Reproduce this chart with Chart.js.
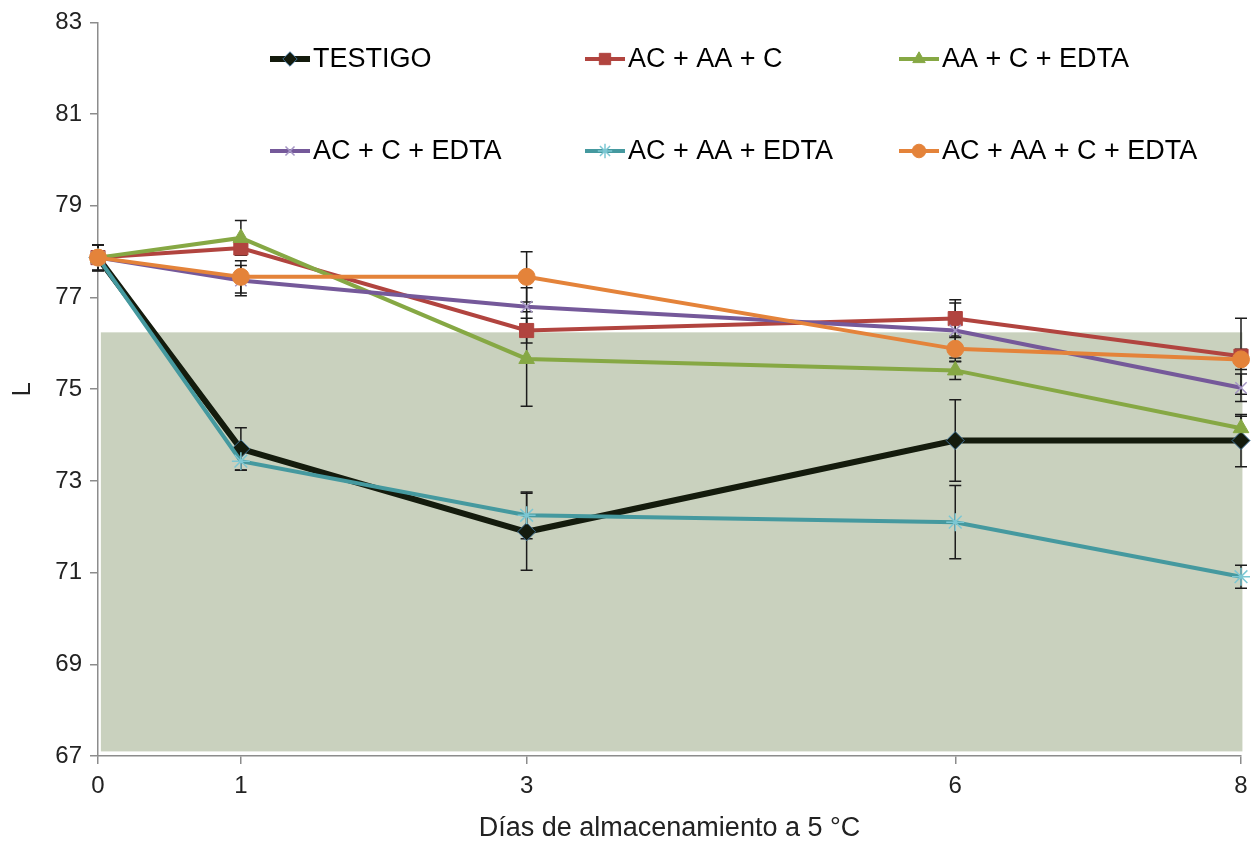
<!DOCTYPE html>
<html>
<head>
<meta charset="utf-8">
<script src="https://cdn.jsdelivr.net/npm/chart.js@4.4.0/dist/chart.umd.min.js"></script>
<style>
  html, body { margin: 0; padding: 0; background: #fff; }
</style>
</head>
<body>
<canvas id="grafico" width="1259" height="846"></canvas>
<script>
// dias de almacenamiento (eje x) y valores medios de L por tratamiento
const dias = [0, 1, 3, 6, 8];
const nombres = ['TESTIGO', 'AC + AA + C', 'AA + C + EDTA', 'AC + C + EDTA', 'AC + AA + EDTA', 'AC + AA + C + EDTA'];

const testigo  = [77.87, 73.70, 71.89, 73.88, 73.88];
const acAaC    = [77.87, 78.08, 76.28, 76.54, 75.72];
const aaCEdta  = [77.87, 78.30, 75.66, 75.41, 74.15];
const acCEdta  = [77.87, 77.37, 76.80, 76.28, 75.03];
const acAaEdta = [77.87, 73.43, 72.25, 72.10, 70.91];
const todos    = [77.87, 77.45, 77.45, 75.88, 75.65];

// desviacion estandar de cada punto (barras de error)
const errTestigo  = [0.28, 0.46, 0.84, 0.89, 0.57];
const errAcAaC    = [0.28, 0.16, 0.27, 0.41, 0.83];
const errAaCEdta  = [0.28, 0.38, 1.03, 0.20, 0.26];
const errAcCEdta  = [0.28, 0.33, 0.41, 0.60, 0.30];
const errAcAaEdta = [0.28, 0.20, 0.51, 0.80, 0.25];
const errTodos    = [0.28, 0.35, 0.55, 0.28, 0.22];

// zona sombreada del area de trazado (en unidades de los ejes)
const zonaX = [0.02, 8.01];
const zonaY = [67.1, 76.24];

const puntos = (vals) => vals.map((v, i) => ({ x: dias[i], y: v }));

function serie(idx, vals, errs, color, estilo) {
    return Object.assign({
        label: nombres[idx],
        data: puntos(vals),
        errores: errs,
        borderColor: color,
        backgroundColor: color,
        borderWidth: 4,
        pointRadius: 8,
        pointBorderWidth: 1,
        pointBorderColor: color,
        pointBackgroundColor: color,
        clip: false,
        tension: 0,
        // la ultima serie queda encima
        order: nombres.length - 1 - idx
    }, estilo);
}

const datasets = [
    serie(0, testigo, errTestigo, '#141b0d', { borderWidth: 6, pointStyle: 'rectRot', pointRadius: 9, pointBorderColor: '#3f6f93' }),
    serie(1, acAaC, errAcAaC, '#b1443f', { pointStyle: 'rect', pointRadius: 10 }),
    serie(2, aaCEdta, errAaCEdta, '#86a844', { pointStyle: 'triangle', pointRadius: 9 }),
    serie(3, acCEdta, errAcCEdta, '#75599a', { pointStyle: 'crossRot', pointRadius: 8, pointBorderWidth: 1.5, pointBorderColor: '#a596c4' }),
    serie(4, acAaEdta, errAcAaEdta, '#45999f', { pointStyle: 'star', pointRadius: 9, pointBorderWidth: 1.5, pointBorderColor: '#7cc7d3' }),
    serie(5, todos, errTodos, '#e4833a', { pointStyle: 'circle', pointRadius: 8.5 })
];

// fondo sombreado y barras de error, antes de dibujar las lineas
const fondoYErrores = {
    id: 'fondoYErrores',
    beforeDatasetsDraw(chart) {
        const ctx = chart.ctx;
        const xs = chart.scales.x;
        const ys = chart.scales.y;
        ctx.save();
        ctx.fillStyle = '#c9d1be';
        const x0 = xs.getPixelForValue(zonaX[0]);
        const x1 = xs.getPixelForValue(zonaX[1]);
        const y0 = ys.getPixelForValue(zonaY[1]);
        const y1 = ys.getPixelForValue(zonaY[0]);
        ctx.fillRect(x0, y0, x1 - x0, y1 - y0);

        ctx.strokeStyle = '#1c1c1c';
        ctx.lineWidth = 1.5;
        chart.data.datasets.forEach((ds) => {
            ds.data.forEach((p, i) => {
                const e = ds.errores[i];
                const px = xs.getPixelForValue(p.x);
                const top = ys.getPixelForValue(p.y + e);
                const bot = ys.getPixelForValue(p.y - e);
                ctx.beginPath();
                ctx.moveTo(px, top);
                ctx.lineTo(px, bot);
                ctx.moveTo(px - 6, top);
                ctx.lineTo(px + 6, top);
                ctx.moveTo(px - 6, bot);
                ctx.lineTo(px + 6, bot);
                ctx.stroke();
            });
        });
        ctx.restore();
    }
};

// leyenda en dos filas dentro del area de trazado
const leyenda = {
    id: 'leyenda',
    afterDraw(chart) {
        const ctx = chart.ctx;
        const colX = [270, 585, 899];
        const filaY = [59, 151];
        ctx.save();
        chart.data.datasets.forEach((ds, i) => {
            const x = colX[i % 3];
            const y = filaY[Math.floor(i / 3)];
            ctx.strokeStyle = ds.borderColor;
            ctx.lineWidth = ds.borderWidth;
            ctx.beginPath();
            ctx.moveTo(x, y);
            ctx.lineTo(x + 40, y);
            ctx.stroke();
            ctx.fillStyle = ds.pointBackgroundColor;
            ctx.strokeStyle = ds.pointBorderColor;
            ctx.lineWidth = ds.pointBorderWidth;
            Chart.helpers.drawPoint(ctx, {
                pointStyle: ds.pointStyle,
                radius: ds.pointRadius * 0.8,
                rotation: 0,
                borderWidth: ds.pointBorderWidth
            }, x + 20, y);
            ctx.fillStyle = '#000';
            ctx.font = '27px "Liberation Sans", Arial, sans-serif';
            ctx.textBaseline = 'middle';
            ctx.textAlign = 'left';
            ctx.fillText(ds.label, x + 43, y + 1);
        });
        ctx.restore();
    }
};

const fuenteEje = { family: '"Liberation Sans", Arial, sans-serif', size: 24 };
const colorEje = '#8c8c8c';

new Chart(document.getElementById('grafico'), {
    type: 'line',
    data: { datasets: datasets },
    plugins: [fondoYErrores, leyenda],
    options: {
        responsive: false,
        animation: false,
        layout: { padding: { top: 21, right: 18, bottom: 0, left: 0 } },
        plugins: {
            legend: { display: false },
            tooltip: { enabled: false }
        },
        scales: {
            x: {
                type: 'linear',
                min: 0,
                max: 8,
                afterBuildTicks: (s) => { s.ticks = dias.map((d) => ({ value: d })); },
                afterFit: (s) => { s.height = 90; },
                ticks: { font: fuenteEje, color: '#222', padding: 8, maxRotation: 0 },
                grid: { drawOnChartArea: false, drawTicks: true, tickLength: 8, color: colorEje, lineWidth: 1.5 },
                border: { color: colorEje, width: 1.5 },
                title: {
                    display: true,
                    text: 'Días de almacenamiento a 5 °C',
                    color: '#222',
                    font: { family: '"Liberation Sans", Arial, sans-serif', size: 27 },
                    padding: { top: 0, bottom: 1 }
                }
            },
            y: {
                min: 67,
                max: 83,
                afterFit: (s) => { s.width = 98; },
                ticks: { stepSize: 2, font: fuenteEje, color: '#222', padding: 8 },
                grid: { drawOnChartArea: false, drawTicks: true, tickLength: 8, color: colorEje, lineWidth: 1.5 },
                border: { color: colorEje, width: 1.5 },
                title: {
                    display: true,
                    text: 'L',
                    color: '#222',
                    font: { family: '"Liberation Sans", Arial, sans-serif', size: 26 },
                    padding: { top: 7, bottom: 0 }
                }
            }
        }
    }
});
</script>
</body>
</html>
